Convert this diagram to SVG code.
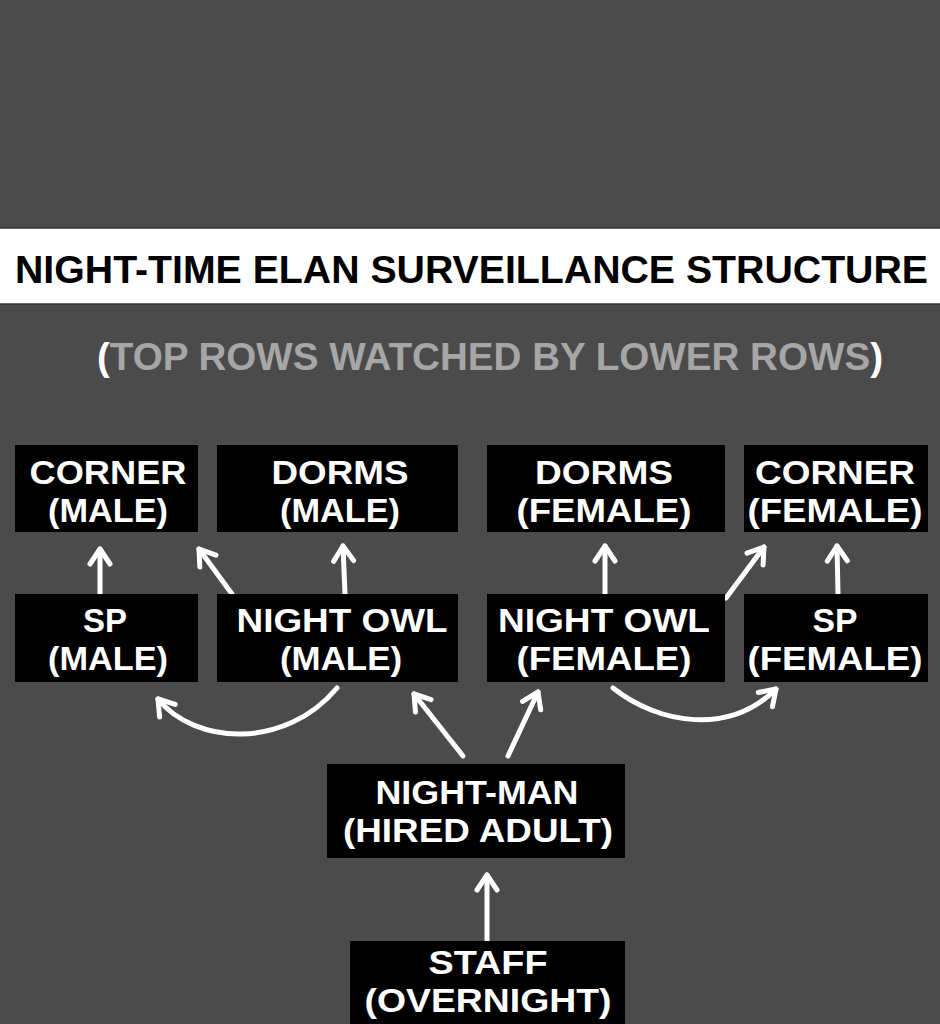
<svg xmlns="http://www.w3.org/2000/svg" width="940" height="1024" viewBox="0 0 940 1024">
<defs>
<style>
.node rect { fill: #000000; }
.node text { fill: #ffffff; font-family: "Liberation Sans", Arial, sans-serif; font-weight: bold; font-size: 34px; text-anchor: middle; }
.title { fill: #000000; font-family: "Liberation Sans", Arial, sans-serif; font-weight: bold; font-size: 39px; }
.subtitle { fill: #a6a6a6; font-family: "Liberation Sans", Arial, sans-serif; font-weight: bold; font-size: 38px; }
.paren { fill: #ffffff; }
.edge { fill: none; stroke: #ffffff; stroke-width: 5; stroke-linecap: round; stroke-linejoin: round; marker-end: url(#head); }
</style>
<marker id="head" markerUnits="userSpaceOnUse" markerWidth="40" markerHeight="40" viewBox="-20 -20 40 40" refX="0" refY="0" orient="auto">
<path d="M-15,-10 L0,0 L-15,10" fill="none" stroke="#ffffff" stroke-width="5" stroke-linecap="round" stroke-linejoin="round"/>
</marker>
</defs>
<rect x="0" y="0" width="940" height="1024" fill="#4b4b4b"/>

<g id="title">
<rect x="-2" y="228" width="944" height="76" fill="#ffffff" stroke="#333333" stroke-width="1.5"/>
<text class="title" x="15" y="283" textLength="913" lengthAdjust="spacingAndGlyphs">NIGHT-TIME ELAN SURVEILLANCE STRUCTURE</text>
</g>

<g id="subtitle">
<text class="subtitle" x="97" y="370" textLength="786" lengthAdjust="spacingAndGlyphs"><tspan class="paren">(</tspan>TOP ROWS WATCHED BY LOWER ROWS<tspan class="paren">)</tspan></text>
</g>

<g id="connectors">
<path class="edge" d="M100,594 L100,549"/>
<path class="edge" d="M232,594 L199,549"/>
<path class="edge" d="M345,594 L343,546"/>
<path class="edge" d="M337,688 C285,750 195,745 158,699"/>
<path class="edge" d="M463,756 L414,694"/>
<path class="edge" d="M508,756 L538,692"/>
<path class="edge" d="M605,594 L605,546"/>
<path class="edge" d="M726,598 L764,547"/>
<path class="edge" d="M838,594 L837,546"/>
<path class="edge" d="M613,688 C660,725 730,735 776,689"/>
<path class="edge" d="M487,940 L487,875"/>
</g>

<g id="corner-male" class="node">
<rect x="15" y="445" width="183" height="87"/>
<text x="108" y="484" textLength="157" lengthAdjust="spacingAndGlyphs">CORNER</text>
<text x="108" y="522" textLength="120" lengthAdjust="spacingAndGlyphs">(MALE)</text>
</g>
<g id="dorms-male" class="node">
<rect x="217" y="445" width="241" height="87"/>
<text x="340" y="484" textLength="137" lengthAdjust="spacingAndGlyphs">DORMS</text>
<text x="340" y="522" textLength="120" lengthAdjust="spacingAndGlyphs">(MALE)</text>
</g>
<g id="dorms-female" class="node">
<rect x="487" y="445" width="238" height="87"/>
<text x="604" y="484" textLength="138" lengthAdjust="spacingAndGlyphs">DORMS</text>
<text x="604" y="522" textLength="175" lengthAdjust="spacingAndGlyphs">(FEMALE)</text>
</g>
<g id="corner-female" class="node">
<rect x="744" y="445" width="184" height="87"/>
<text x="835" y="484" textLength="160" lengthAdjust="spacingAndGlyphs">CORNER</text>
<text x="835" y="522" textLength="175" lengthAdjust="spacingAndGlyphs">(FEMALE)</text>
</g>

<g id="sp-male" class="node">
<rect x="15" y="594" width="183" height="88"/>
<text x="105" y="632" textLength="44" lengthAdjust="spacingAndGlyphs">SP</text>
<text x="108" y="670" textLength="120" lengthAdjust="spacingAndGlyphs">(MALE)</text>
</g>
<g id="night-owl-male" class="node">
<rect x="217" y="594" width="241" height="88"/>
<text x="342" y="632" textLength="211" lengthAdjust="spacingAndGlyphs">NIGHT OWL</text>
<text x="341" y="670" textLength="122" lengthAdjust="spacingAndGlyphs">(MALE)</text>
</g>
<g id="night-owl-female" class="node">
<rect x="487" y="594" width="238" height="88"/>
<text x="604" y="632" textLength="212" lengthAdjust="spacingAndGlyphs">NIGHT OWL</text>
<text x="604" y="670" textLength="175" lengthAdjust="spacingAndGlyphs">(FEMALE)</text>
</g>
<g id="sp-female" class="node">
<rect x="744" y="594" width="184" height="88"/>
<text x="835" y="632" textLength="45" lengthAdjust="spacingAndGlyphs">SP</text>
<text x="835" y="670" textLength="175" lengthAdjust="spacingAndGlyphs">(FEMALE)</text>
</g>

<g id="night-man" class="node">
<rect x="327" y="764" width="298" height="94"/>
<text x="477" y="804" textLength="203" lengthAdjust="spacingAndGlyphs">NIGHT-MAN</text>
<text x="478" y="842" textLength="270" lengthAdjust="spacingAndGlyphs">(HIRED ADULT)</text>
</g>
<g id="staff" class="node">
<rect x="350" y="941" width="275" height="90"/>
<text x="488" y="974" textLength="119" lengthAdjust="spacingAndGlyphs">STAFF</text>
<text x="488" y="1012" textLength="247" lengthAdjust="spacingAndGlyphs">(OVERNIGHT)</text>
</g>
</svg>
